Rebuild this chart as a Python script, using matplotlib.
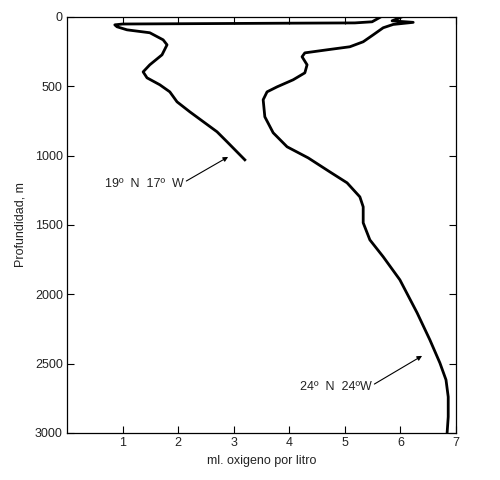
import matplotlib.pyplot as plt

plt.rcParams['font.family'] = ['Liberation Sans', 'DejaVu Sans']

# 19 N 17 W profile (ml O2 per litre, depth m)
ox_19n = [5.65, 5.49, 5.18, 4.0, 3.0, 2.0, 1.0, 0.86, 0.90, 1.08, 1.49, 1.73, 1.80,
          1.71, 1.49, 1.37, 1.44, 1.67, 1.85, 1.98, 2.21, 2.70, 2.88, 3.20]
dep_19n = [0, 36, 44, 46, 48, 50, 52, 58, 72, 94, 115, 166, 202,
           274, 346, 397, 440, 490, 541, 613, 685, 829, 901, 1031]

# 24 N 24 W profile
ox_24n = [6.03, 5.85, 6.23, 5.87, 5.69, 5.51, 5.33, 5.09, 4.68, 4.28, 4.23, 4.32,
          4.28, 4.07, 3.78, 3.60, 3.53, 3.56, 3.71, 3.96, 4.34, 4.73, 5.04, 5.27,
          5.33, 5.33, 5.45, 5.69, 5.99, 6.30, 6.53, 6.71, 6.82, 6.86, 6.86, 6.84]
dep_24n = [0, 29, 40, 55, 79, 130, 180, 216, 238, 260, 288, 346,
           404, 454, 505, 541, 598, 721, 836, 937, 1017, 1118, 1197, 1298,
           1370, 1485, 1608, 1730, 1896, 2134, 2329, 2495, 2617, 2740, 2884, 3000]

xticks = [1, 2, 3, 4, 5, 6, 7]
yticks = [0, 500, 1000, 1500, 2000, 2500, 3000]

fig = plt.figure(figsize=(5, 4.8), dpi=100)
ax = fig.add_axes([0.134, 0.098, 0.778, 0.867])

ax.plot(ox_19n, dep_19n, color='black', linewidth=2.0, solid_joinstyle='round')
ax.plot(ox_24n, dep_24n, color='black', linewidth=2.0, solid_joinstyle='round')

ax.set_xlim(0, 7)
ax.set_ylim(3000, 0)
ax.set_xticks(xticks)
ax.set_yticks(yticks)
ax.tick_params(direction='in', length=5, width=0.8, top=True, right=True,
               labelsize=9, labelcolor='#222222', pad=3)
for s in ax.spines.values():
    s.set_linewidth(0.9)

ax.set_xlabel('ml. oxigeno por litro', fontsize=9, color='#222222', labelpad=4)
ax.set_ylabel('Profundidad, m', fontsize=9, color='#222222', labelpad=6)

ax.annotate('19º  N  17º  W', xy=(2.90, 1010), xytext=(0.68, 1204),
            fontsize=9, color='#222222', va='center', ha='left',
            arrowprops=dict(arrowstyle='-|>', color='black', lw=0.8,
                            mutation_scale=7, shrinkA=0, shrinkB=0,
                            relpos=(1.0, 0.6)))
ax.annotate('24º  N  24ºW', xy=(6.39, 2444), xytext=(4.19, 2668),
            fontsize=9, color='#222222', va='center', ha='left',
            arrowprops=dict(arrowstyle='-|>', color='black', lw=0.8,
                            mutation_scale=7, shrinkA=0, shrinkB=0,
                            relpos=(1.0, 0.6)))

fig.savefig('out.png', dpi=100)
